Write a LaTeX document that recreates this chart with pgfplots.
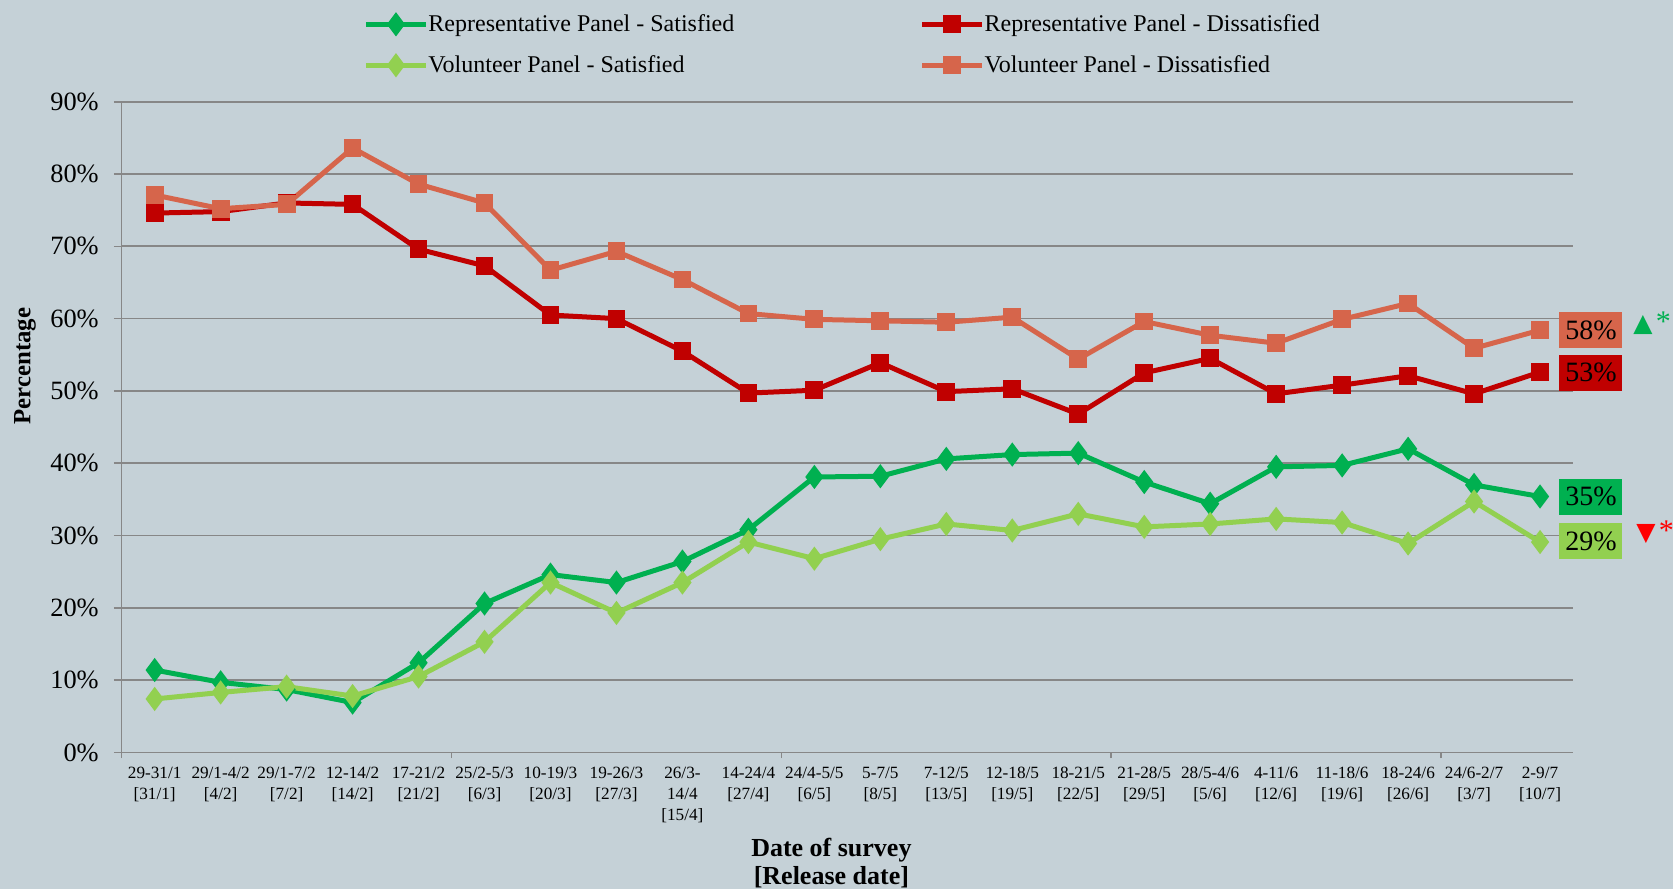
\documentclass[border=0pt]{standalone}
\usepackage{pgfplots}
\pgfplotsset{compat=1.18}
\usepackage{pgfplotstable}
\usepackage{fontspec}
\setmainfont{Liberation Serif}
\newfontfamily\dejavu{DejaVu Sans}
\definecolor{bg}{HTML}{C5D1D7}
\definecolor{gridgray}{HTML}{878787}
\definecolor{rsc}{HTML}{00B050}
\definecolor{vsc}{HTML}{92D050}
\definecolor{rdc}{HTML}{C00000}
\definecolor{vdc}{HTML}{D6654B}
\definecolor{redmark}{HTML}{FF0000}

\pgfplotstableread{
x  rs   rd   vs   vd
0  11.4 74.6 7.4  77.1
1  9.7  74.8 8.3  75.2
2  8.7  76.0 9.1  75.8
3  6.9  75.8 7.8  83.6
4  12.4 69.6 10.5 78.6
5  20.6 67.3 15.3 76.0
6  24.6 60.5 23.5 66.7
7  23.5 60.0 19.3 69.3
8  26.4 55.5 23.5 65.4
9  30.8 49.7 29.1 60.7
10 38.1 50.1 26.8 59.9
11 38.2 53.9 29.5 59.7
12 40.6 49.9 31.6 59.5
13 41.2 50.3 30.7 60.2
14 41.4 46.8 33.0 54.4
15 37.4 52.5 31.2 59.6
16 34.4 54.5 31.6 57.7
17 39.5 49.6 32.3 56.6
18 39.7 50.8 31.8 59.9
19 42.0 52.1 28.9 62.1
20 37.0 49.6 34.7 55.9
21 35.4 52.6 29.1 58.4
}\datatable

\begin{document}
\begin{tikzpicture}
\fill[bg] (-60.85pt,-68.25pt) rectangle (775.7pt,376.25pt);
\useasboundingbox (-60.85pt,-68.25pt) rectangle (775.7pt,376.25pt);
\begin{axis}[
  at={(0pt,0pt)}, anchor=south west,
  scale only axis, width=725.7pt, height=325.4pt,
  xmin=-0.5, xmax=21.5, ymin=0, ymax=90,
  clip=false,
  axis lines=left,
  axis line style={-, draw=gridgray, line width=0.8pt},
  ymajorgrids,
  grid style={gridgray, line width=0.85pt},
  tick align=outside,
  major tick length=3.9pt,
  tick style={gridgray, line width=0.8pt},
  ytick={0,10,20,30,40,50,60,70,80,90},
  yticklabels={0\%,10\%,20\%,30\%,40\%,50\%,60\%,70\%,80\%,90\%},
  yticklabel style={font=\fontsize{13.2}{13.2}\selectfont, inner xsep=0pt, xshift=-7.4pt},
  xtick={0,...,21},
  xticklabels={
    29-31/1\\{[31/1]},
    29/1-4/2\\{[4/2]},
    29/1-7/2\\{[7/2]},
    12-14/2\\{[14/2]},
    17-21/2\\{[21/2]},
    25/2-5/3\\{[6/3]},
    10-19/3\\{[20/3]},
    19-26/3\\{[27/3]},
    26/3-\\14/4\\{[15/4]},
    14-24/4\\{[27/4]},
    24/4-5/5\\{[6/5]},
    5-7/5\\{[8/5]},
    7-12/5\\{[13/5]},
    12-18/5\\{[19/5]},
    18-21/5\\{[22/5]},
    21-28/5\\{[29/5]},
    28/5-4/6\\{[5/6]},
    4-11/6\\{[12/6]},
    11-18/6\\{[19/6]},
    18-24/6\\{[26/6]},
    24/6-2/7\\{[3/7]},
    2-9/7\\{[10/7]}},
  xticklabel style={align=center, font=\fontsize{8.6}{10.4}\selectfont, anchor=north, inner ysep=0pt, yshift=-3.2pt},
  major x tick style={draw=none},
  minor xtick={-0.5,4.5,9.5,14.5,19.5},
  minor tick length=2.8pt,
  minor x tick style={draw=gridgray, line width=0.8pt},
  xlabel={Date of survey\\{[Release date]}},
  xlabel style={align=center, font=\bfseries\fontsize{13}{14}\selectfont, at={(axis description cs:0.489,-0.170)}, anchor=center},
  ylabel={Percentage},
  ylabel style={font=\bfseries\fontsize{12.4}{14}\selectfont, at={(axis description cs:-0.0666,0.594)}, anchor=center},
  legend columns=2,
  legend cell align=left,
  legend style={at={(axis description cs:0.1663,1.0875)}, anchor=west, draw=none, fill=none,
    font=\fontsize{12}{13}\selectfont, inner sep=0pt, row sep=6.5pt,
    nodes={inner xsep=0pt},
    /tikz/column 2/.style={column sep=92.7pt}},
  legend image code/.code={\draw[mark repeat=2,mark phase=2] plot coordinates {(0pt,0pt) (15pt,0pt) (30pt,0pt)};},
  every axis plot/.append style={line width=2.5pt},
]
\addplot[color=rsc, mark=diamond*, mark size=4pt, mark options={solid}] table[x=x,y=rs] {\datatable};
\addlegendentry{Representative Panel - Satisfied}
\addplot[color=rdc, mark=square*, mark size=3.2pt, mark options={solid}] table[x=x,y=rd] {\datatable};
\addlegendentry{Representative Panel - Dissatisfied}
\addplot[color=vsc, mark=diamond*, mark size=4pt, mark options={solid}] table[x=x,y=vs] {\datatable};
\addlegendentry{Volunteer Panel - Satisfied}
\addplot[color=vdc, mark=square*, mark size=3.2pt, mark options={solid}] table[x=x,y=vd] {\datatable};
\addlegendentry{Volunteer Panel - Dissatisfied}

\node[fill=vdc, minimum width=31.5pt, minimum height=18pt, inner sep=0pt, anchor=west, xshift=9.5pt, font=\fontsize{14}{14}\selectfont] at (axis cs:21,58.4) {58\%};
\node[fill=rdc, minimum width=31.5pt, minimum height=18pt, inner sep=0pt, anchor=west, xshift=9.5pt, font=\fontsize{14}{14}\selectfont] at (axis cs:21,52.5) {53\%};
\node[fill=rsc, minimum width=31.5pt, minimum height=18pt, inner sep=0pt, anchor=west, xshift=9.5pt, font=\fontsize{14}{14}\selectfont] at (axis cs:21,35.4) {35\%};
\node[fill=vsc, minimum width=31.5pt, minimum height=18pt, inner sep=0pt, anchor=west, xshift=9.5pt, font=\fontsize{14}{14}\selectfont] at (axis cs:21,29.2) {29\%};
\node[anchor=west, xshift=46.5pt, inner sep=0pt, text=rsc] at (axis cs:21,59.3) {{\dejavu\fontsize{12.5}{12.5}\selectfont ▲}\,{\fontsize{15}{15}\selectfont *}};
\node[anchor=west, xshift=48pt, inner sep=0pt, text=redmark] at (axis cs:21,30.4) {{\dejavu\fontsize{12.5}{12.5}\selectfont ▼}\,{\fontsize{15}{15}\selectfont *}};
\end{axis}
\end{tikzpicture}
\end{document}
